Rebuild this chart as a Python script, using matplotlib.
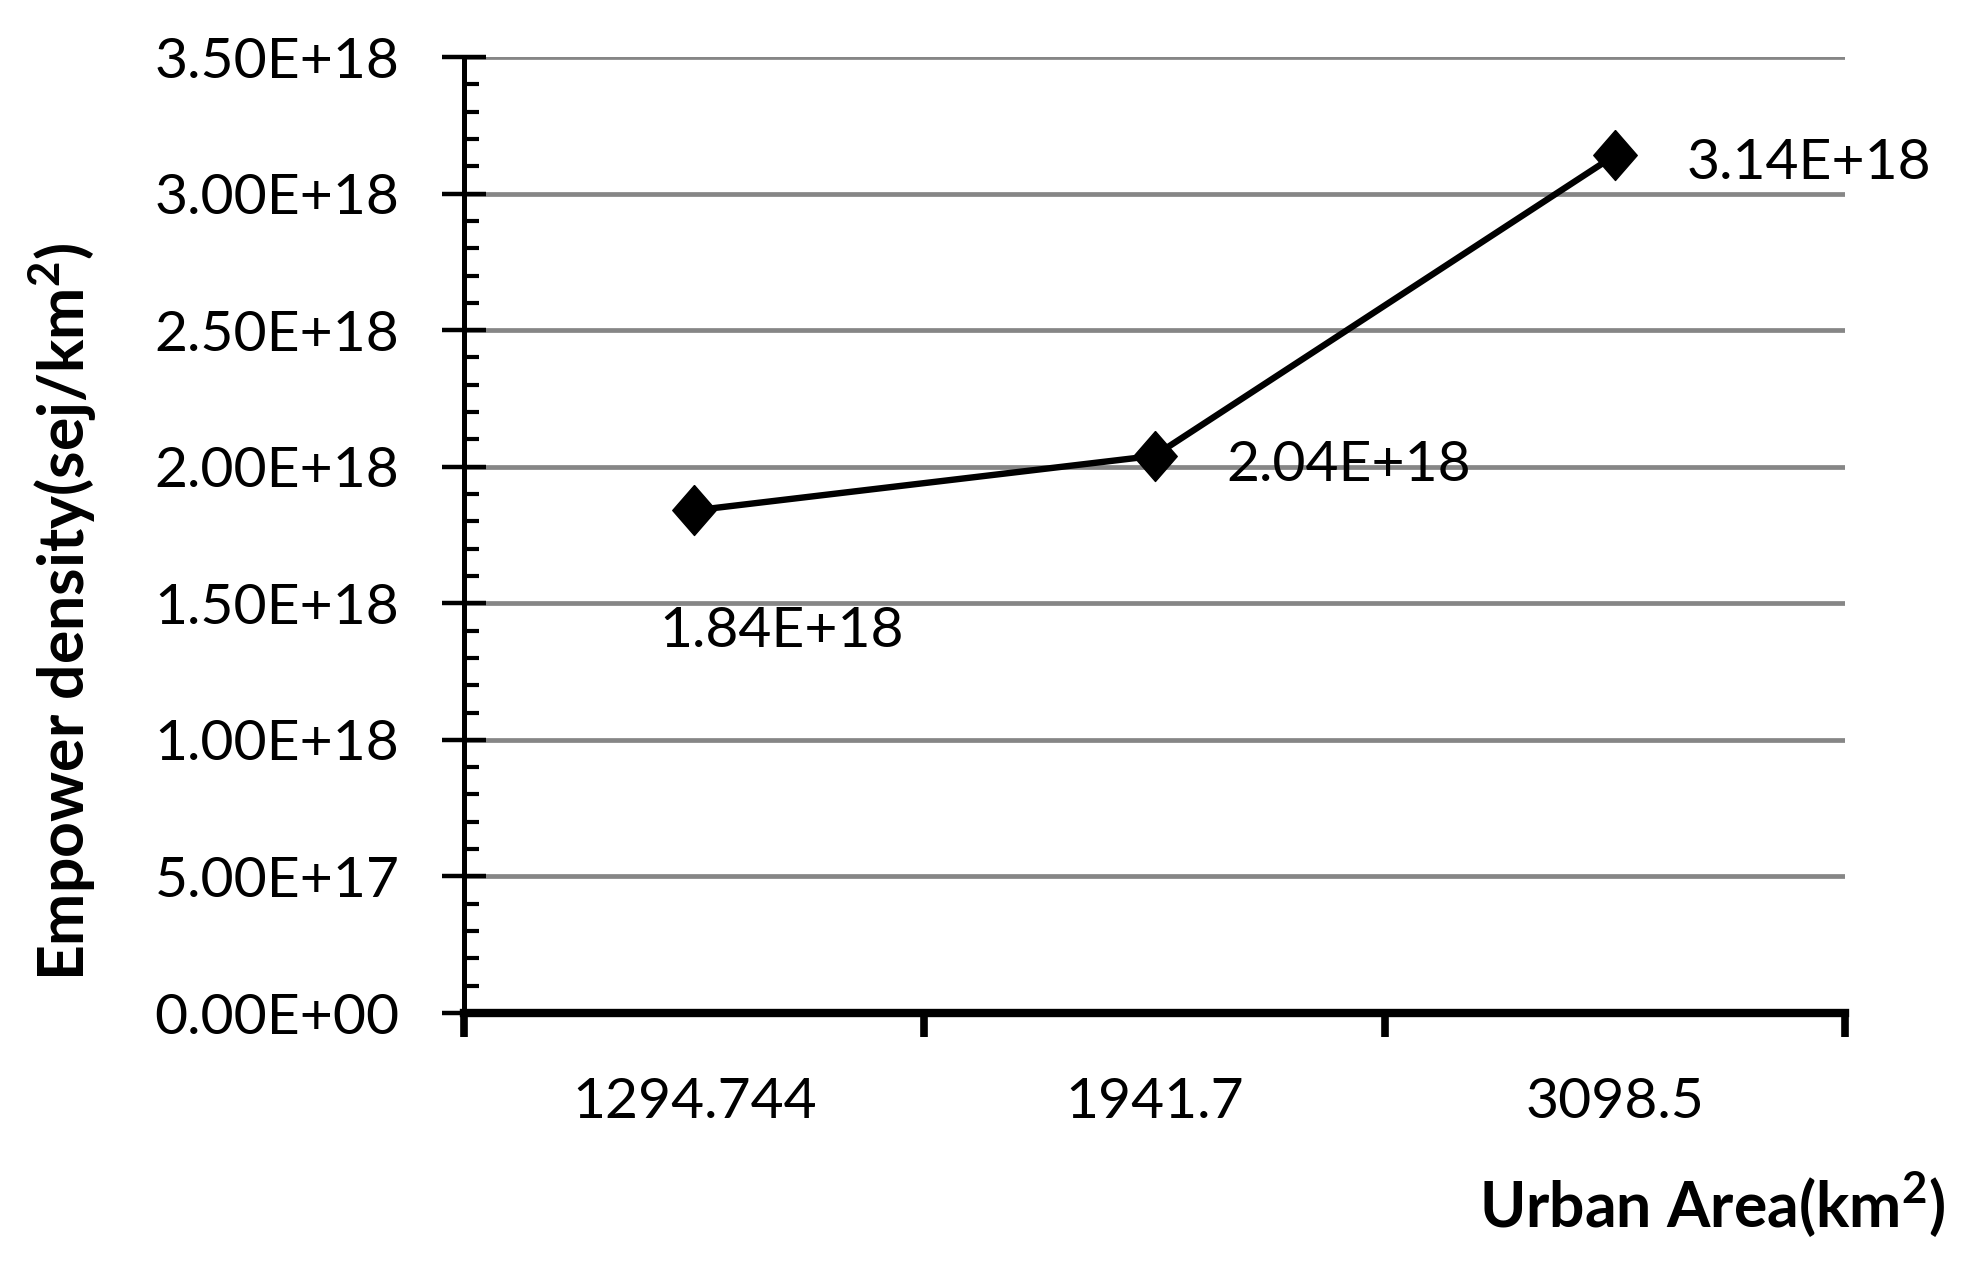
import matplotlib
matplotlib.use("Agg")
import matplotlib.pyplot as plt
from matplotlib.ticker import FixedLocator, FuncFormatter, MultipleLocator

# Data
categories = ["1294.744", "1941.7", "3098.5"]
values = [1.84e18, 2.04e18, 3.14e18]
value_labels = ["1.84E+18", "2.04E+18", "3.14E+18"]
y_ticks = [0, 0.5e18, 1.0e18, 1.5e18, 2.0e18, 2.5e18, 3.0e18, 3.5e18]

plt.rcParams['font.family'] = ['Lato', 'DejaVu Sans']
plt.rcParams['mathtext.fontset'] = 'custom'
plt.rcParams['mathtext.rm'] = 'Lato'
plt.rcParams['mathtext.bf'] = 'Lato:bold'

fig = plt.figure(figsize=(19.75, 12.7), dpi=100)
ax = fig.add_axes([464/1975, 1-1013/1270, (1845-464)/1975, (1013-57)/1270])

x = list(range(len(categories)))
diamond = [(0, 1), (0.87, 0), (0, -1), (-0.87, 0), (0, 1)]
ax.plot(x, values, color='black', lw=4.6, marker=diamond, markersize=36,
        markerfacecolor='black', markeredgecolor='black', zorder=5, clip_on=False)

ax.set_xlim(-0.5, len(categories) - 0.5)
ax.set_ylim(0, 3.5e18)

# Gridlines
ax.set_yticks(y_ticks)
ax.yaxis.set_major_formatter(FuncFormatter(lambda v, p: f"{v:.2E}"))
ax.yaxis.set_minor_locator(MultipleLocator(1e17))
ax.grid(axis='y', which='major', color='#868686', lw=3.4, zorder=0)
ax.set_axisbelow(True)

ax.tick_params(axis='y', which='major', direction='inout', length=31, width=3.2,
               labelsize=41, pad=31, color='black')
ax.tick_params(axis='y', which='minor', direction='in', length=11, width=3.0, color='black')

# X: boundaries as major ticks, categories as minor labels
ax.xaxis.set_major_locator(FixedLocator([-0.5 + i for i in range(len(categories) + 1)]))
ax.xaxis.set_major_formatter(FuncFormatter(lambda v, p: ""))
ax.xaxis.set_minor_locator(FixedLocator(x))
ax.set_xticklabels(categories, minor=True)
ax.tick_params(axis='x', which='major', direction='out', length=17, width=5.5, color='black')
ax.tick_params(axis='x', which='minor', length=0, labelsize=41, pad=46)

for s in ['top', 'right']:
    ax.spines[s].set_visible(False)
ax.spines['left'].set_linewidth(3.6)
ax.spines['bottom'].set_linewidth(6.0)
ax.spines['bottom'].set_zorder(3)

# Data labels
offsets = [((63, -87), 'center'), ((52, -7), 'left'), ((52, -6), 'left')]
for xi, v, lab, (off, ha) in zip(x, values, value_labels, offsets):
    ax.annotate(lab, (xi, v), xytext=off, textcoords='offset points',
                ha=ha, va='center', fontsize=41, color='black', annotation_clip=False)

fig.text(63/1975, 1-612/1270, r"Empower density(sej/km$^{\mathbf{2}}$)", rotation=90,
         ha='center', va='center', fontsize=45, fontweight='bold')
fig.text(1946/1975, 1-1205/1270, r"Urban Area(km$^{\mathbf{2}}$)", ha='right', va='center',
         fontsize=45, fontweight='bold')

fig.savefig("out.png", dpi=100)
